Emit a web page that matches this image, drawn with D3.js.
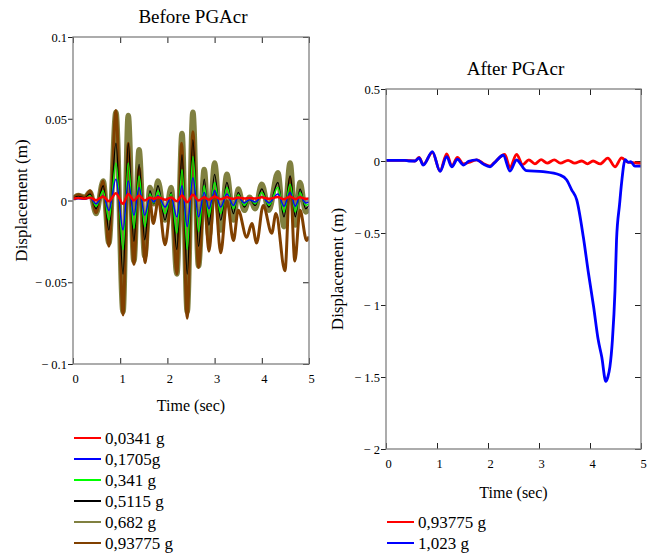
<!DOCTYPE html>
<html>
<head>
<meta charset="utf-8">
<script src="https://cdn.jsdelivr.net/npm/d3@7"></script>
<style>
body { margin: 0; background: #fff; }
svg text { font-family: "Liberation Serif", "Times New Roman", "DejaVu Serif", serif !important; fill: #000; }
</style>
</head>
<body>
<div id="chart"></div>
<script>
/*global d3*/
// données : [temps (s), déplacement (m)]
var xTicks = [0, 1, 2, 3, 4, 5];
var yTicksBefore = [0.1, 0.05, 0, -0.05, -0.1];
var yTicksAfter = [0.5, 0, -0.5, -1, -1.5, -2];

var legendBefore = ["0,0341 g", "0,1705g", "0,341 g", "0,5115 g", "0,682 g", "0,93775 g"];
var legendAfter = ["0,93775 g", "1,023 g"];

var pga0682 = [[0, .001], [.11, .003], [.25, .002], [.36, .005], [.49, -.008], [.64, .012], [.76, -.026],
  [.91, .054], [1.06, -.068], [1.17, .052], [1.29, -.037], [1.40, .031], [1.52, -.034], [1.63, .008],
  [1.71, -.002], [1.80, .012], [1.95, -.012], [2.08, .008], [2.20, -.045], [2.31, .041], [2.42, -.068],
  [2.54, .054], [2.66, -.040], [2.78, .019], [2.88, -.022], [3.00, .023], [3.13, -.018], [3.26, .016],
  [3.40, -.012], [3.50, .007], [3.63, -.006], [3.74, .002], [3.86, -.005], [4.00, .010], [4.15, -.006],
  [4.34, .017], [4.47, -.016], [4.60, .023], [4.71, -.015], [4.81, .011], [4.93, -.007], [5.0, -.005]];

var pga093775 = [[0, .0015], [.11, .0035], [.25, .002], [.36, .006], [.49, -.0075], [.64, .012], [.76, -.028],
  [.91, .055], [1.06, -.070], [1.17, .035], [1.29, -.039], [1.40, .020], [1.53, -.038], [1.63, .000],
  [1.70, -.014], [1.76, -.006], [1.80, .002], [1.95, -.027], [2.09, .000], [2.20, -.045], [2.30, .035],
  [2.42, -.072], [2.54, .042], [2.66, -.041], [2.78, .002], [2.88, -.031], [3.00, .006], [3.13, -.032],
  [3.26, .000], [3.40, -.0245], [3.50, -.006], [3.68, -.0225], [3.79, -.014], [3.89, -.026], [4.03, -.003],
  [4.21, -.020], [4.30, -.008], [4.49, -.043], [4.60, .014], [4.70, -.037], [4.81, -.006], [4.95, -.0245],
  [5.0, -.022]];

var pga05115 = [[0, .001], [.11, .0025], [.25, .0015], [.36, .004], [.49, -.005], [.64, .009], [.76, -.018],
  [.91, .035], [1.06, -.045], [1.17, .035], [1.29, -.025], [1.40, .022], [1.52, -.024], [1.63, .006],
  [1.71, -.002], [1.80, .009], [1.95, -.012], [2.08, .005], [2.20, -.030], [2.31, .028], [2.42, -.045],
  [2.54, .037], [2.66, -.028], [2.78, .013], [2.88, -.015], [3.00, .016], [3.13, -.012], [3.26, .011],
  [3.40, -.008], [3.50, .005], [3.63, -.004], [3.74, .001], [3.86, -.003], [4.00, .007], [4.15, -.004],
  [4.34, .011], [4.47, -.010], [4.60, .015], [4.71, -.010], [4.81, .007], [4.93, -.005], [5.0, -.003]];

var pga0341 = [[0, .0008], [.11, .0018], [.25, .001], [.36, .003], [.49, -.0035], [.64, .006], [.76, -.012],
  [.91, .023], [1.06, -.030], [1.17, .023], [1.29, -.017], [1.40, .015], [1.52, -.016], [1.63, .004],
  [1.71, -.0015], [1.80, .006], [1.95, -.008], [2.08, .004], [2.20, -.020], [2.31, .019], [2.42, -.030],
  [2.54, .027], [2.66, -.019], [2.78, .009], [2.88, -.010], [3.00, .011], [3.13, -.008], [3.26, .008],
  [3.40, -.005], [3.50, .0035], [3.63, -.003], [3.74, .001], [3.86, -.002], [4.00, .005], [4.15, -.003],
  [4.34, .008], [4.47, -.007], [4.60, .010], [4.71, -.007], [4.81, .005], [4.93, -.003], [5.0, -.002]];

var pga01705 = [[0, .0005], [.11, .001], [.25, .0007], [.36, .0015], [.49, -.002], [.64, .003], [.76, -.006],
  [.91, .013], [1.06, -.018], [1.17, .012], [1.29, -.009], [1.40, .008], [1.52, -.009], [1.63, .002],
  [1.71, -.001], [1.80, .003], [1.95, -.004], [2.08, .002], [2.20, -.010], [2.31, .009], [2.42, -.016],
  [2.54, .014], [2.66, -.010], [2.78, .005], [2.88, -.005], [3.00, .006], [3.13, -.004], [3.26, .004],
  [3.40, -.003], [3.50, .002], [3.63, -.0015], [3.74, .0005], [3.86, -.001], [4.00, .0025], [4.15, -.0015],
  [4.34, .004], [4.47, -.0035], [4.60, .005], [4.71, -.0035], [4.81, .0025], [4.93, -.0015], [5.0, -.001]];

var pga00341 = [[0, .001], [.11, .0015], [.25, .0012], [.36, .0018], [.49, .0002], [.64, .0025], [.76, -.0005],
  [.91, .0045], [1.06, -.002], [1.17, .004], [1.29, .000], [1.40, .003], [1.52, .000], [1.63, .0018],
  [1.71, .001], [1.80, .002], [1.95, .0005], [2.08, .0018], [2.20, -.0005], [2.31, .003], [2.42, -.001],
  [2.54, .0035], [2.66, .000], [2.78, .002], [2.88, .0005], [3.00, .0025], [3.13, .0008], [3.26, .002],
  [3.40, .001], [3.50, .0018], [3.63, .0012], [3.74, .0015], [3.86, .0012], [4.00, .002], [4.15, .001],
  [4.34, .0022], [4.47, .0008], [4.60, .0025], [4.71, .0008], [4.81, .002], [4.93, .001], [5.0, .0012]];

var after093775 = [[0, .005], [.37, .005], [.57, .0], [.65, .025], [.73, -.025], [.91, .06], [1.06, -.07],
  [1.19, .05], [1.29, -.035], [1.40, .025], [1.52, -.02], [1.62, -.01], [1.78, .008], [1.90, -.015],
  [2.04, -.035], [2.12, -.012], [2.33, .045], [2.43, -.045], [2.56, .045], [2.68, -.025], [2.80, .008],
  [2.92, -.02], [3.04, .01], [3.16, -.015], [3.30, .008], [3.42, -.015], [3.57, .005], [3.70, -.015],
  [3.84, .0], [3.95, -.02], [4.06, .0], [4.20, -.02], [4.35, .02], [4.49, -.04], [4.62, .022],
  [4.72, -.005], [4.82, -.012], [5.0, -.016]];

var after1023 = [[0, .005], [.37, .005], [.45, .0], [.57, .0], [.65, .022], [.73, -.028], [.91, .065],
  [1.06, -.072], [1.19, .03], [1.29, -.04], [1.40, .012], [1.52, -.028], [1.62, -.002], [1.78, .008],
  [1.90, -.02], [2.04, -.04], [2.12, -.015], [2.30, .04], [2.43, -.07], [2.56, .007], [2.75, -.067],
  [3.08, -.074], [3.41, -.097], [3.54, -.13], [3.64, -.2], [3.74, -.27], [3.87, -.53], [3.97, -.78],
  [4.07, -1.01], [4.16, -1.24], [4.23, -1.36], [4.31, -1.53], [4.35, -1.5], [4.39, -1.43], [4.44, -1.24],
  [4.49, -.9], [4.52, -.55], [4.58, -.3], [4.62, -.15], [4.69, .01], [4.75, -.01], [4.80, -.005],
  [4.88, -.035], [5.0, -.035]];

var serif = "'Liberation Serif', 'Times New Roman', 'DejaVu Serif', serif";
var totalWidth = 658, totalHeight = 554;
var svg = d3.select("#chart").append("svg")
    .attr("width", totalWidth)
    .attr("height", totalHeight)
    .attr("font-family", serif)
    .style("background", "#fff");

function minus(d) {
    return d < 0 ? "\u2212 " + Math.abs(d) : String(d);
}

function panel(p) {
    var x = d3.scaleLinear().domain([0, 5]).range([p.left, p.right]),
        y = d3.scaleLinear().domain(p.yDomain).range([p.bottom, p.top]);

    // axes : graduations vers l'intérieur sauf à gauche
    var g = svg.append("g");
    var left = g.append("g")
        .attr("transform", "translate(" + p.left + ",0)")
        .call(d3.axisLeft(y).tickValues(p.yTicks).tickFormat(minus).tickSize(5).tickPadding(1));
    g.append("g")
        .attr("transform", "translate(" + p.right + ",0)")
        .call(d3.axisRight(y).tickValues(p.yTicks).tickFormat("").tickSize(-6));
    var bottom = g.append("g")
        .attr("transform", "translate(0," + p.bottom + ")")
        .call(d3.axisBottom(x).tickValues(xTicks).tickFormat(d3.format("d")).tickSize(-6).tickPadding(10));
    g.append("g")
        .attr("transform", "translate(0," + p.top + ")")
        .call(d3.axisTop(x).tickValues(xTicks).tickFormat("").tickSize(-6));
    g.selectAll(".domain").remove();
    g.selectAll("g").attr("font-family", serif).attr("font-size", 12.5);
    g.selectAll(".tick line").attr("stroke", "#222").attr("stroke-width", 1);
    left.selectAll("text").attr("dy", "0.36em");
    bottom.selectAll("text").attr("dx", 2);

    // tracés
    var line = d3.line()
        .x(function(d) { return x(d[0]); })
        .y(function(d) { return y(d[1]); })
        .curve(d3.curveMonotoneX);
    var clip = "clip" + p.id;
    svg.append("clipPath").attr("id", clip)
        .append("rect").attr("x", p.left).attr("y", p.top)
        .attr("width", p.right - p.left).attr("height", p.bottom - p.top);
    var traces = svg.append("g").attr("clip-path", "url(#" + clip + ")");
    p.series.forEach(function(s) {
        traces.append("path")
            .datum(s.data)
            .attr("fill", "none")
            .attr("stroke", s.color)
            .attr("stroke-width", s.width)
            .attr("stroke-linejoin", "round")
            .attr("d", line);
    });

    // cadre
    svg.append("rect")
        .attr("x", p.left).attr("y", p.top)
        .attr("width", p.right - p.left).attr("height", p.bottom - p.top)
        .attr("fill", "none").attr("stroke", "#808080").attr("stroke-width", 1.3);

    // titres
    var cx = (p.left + p.right) / 2;
    svg.append("text").attr("x", cx + 2).attr("y", p.titleY)
        .attr("text-anchor", "middle").attr("font-size", 19).text(p.title);
    svg.append("text").attr("x", cx).attr("y", p.xLabelY)
        .attr("text-anchor", "middle").attr("font-size", 16).text("Time (sec)");
    svg.append("text")
        .attr("transform", "translate(" + p.yLabelX + "," + ((p.top + p.bottom) / 2) + ") rotate(-90)")
        .attr("text-anchor", "middle").attr("font-size", 17).text("Displacement (m)");

    // légende
    p.legend.forEach(function(l, i) {
        var ly = p.legendY + i * 21;
        svg.append("line")
            .attr("x1", p.legendX).attr("x2", p.legendX + 27)
            .attr("y1", ly).attr("y2", ly)
            .attr("stroke", l.color).attr("stroke-width", 2);
        svg.append("text")
            .attr("x", p.legendX + 31).attr("y", ly + 6)
            .attr("font-size", 17).text(l.label);
    });
}

var before = [
    {data: pga0682, color: "#808040", width: 5.5},
    {data: pga093775, color: "#804000", width: 3},
    {data: pga05115, color: "#000000", width: 1.4},
    {data: pga0341, color: "#00ff00", width: 1.4},
    {data: pga01705, color: "#0000ff", width: 1.4},
    {data: pga00341, color: "#ff0000", width: 2.5}
];
var beforeColors = ["#ff0000", "#0000ff", "#00ff00", "#000000", "#808040", "#804000"];

panel({
    id: "a", left: 73, right: 309, top: 37, bottom: 364,
    yDomain: [-0.1, 0.1], yTicks: yTicksBefore,
    series: before,
    title: "Before PGAcr", titleY: 23, xLabelY: 411, yLabelX: 27,
    legendX: 74, legendY: 438,
    legend: legendBefore.map(function(l, i) { return {label: l, color: beforeColors[i]}; })
});

panel({
    id: "b", left: 386, right: 641, top: 89, bottom: 449,
    yDomain: [-2, 0.5], yTicks: yTicksAfter,
    series: [
        {data: after093775, color: "#ff0000", width: 2.8},
        {data: after1023, color: "#0000ff", width: 2.8}
    ],
    title: "After PGAcr", titleY: 75, xLabelY: 498, yLabelX: 343,
    legendX: 387, legendY: 522,
    legend: [{label: legendAfter[0], color: "#ff0000"}, {label: legendAfter[1], color: "#0000ff"}]
});
</script>
</body>
</html>
